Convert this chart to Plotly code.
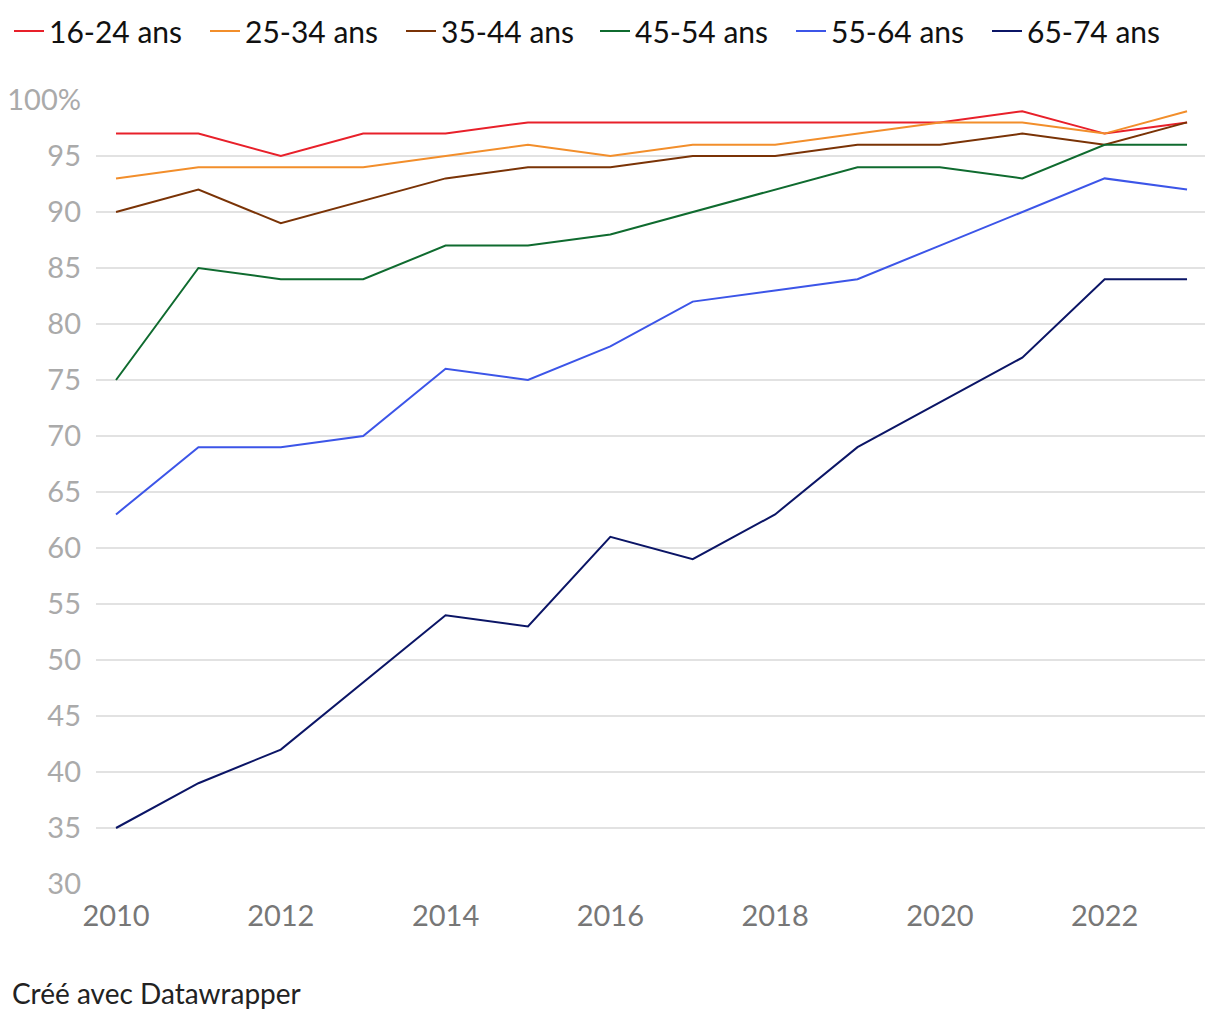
import plotly.graph_objects as go

years = list(range(2010, 2024))
series_names = ["16-24 ans", "25-34 ans", "35-44 ans", "45-54 ans", "55-64 ans", "65-74 ans"]
v_16_24 = [97, 97, 95, 97, 97, 98, 98, 98, 98, 98, 98, 99, 97, 98]
v_25_34 = [93, 94, 94, 94, 95, 96, 95, 96, 96, 97, 98, 98, 97, 99]
v_35_44 = [90, 92, 89, 91, 93, 94, 94, 95, 95, 96, 96, 97, 96, 98]
v_45_54 = [75, 85, 84, 84, 87, 87, 88, 90, 92, 94, 94, 93, 96, 96]
v_55_64 = [63, 69, 69, 70, 76, 75, 78, 82, 83, 84, 87, 90, 93, 92]
v_65_74 = [35, 39, 42, 48, 54, 53, 61, 59, 63, 69, 73, 77, 84, 84]
colors = ["#e8202a", "#f28e2b", "#7a3306", "#0f6b2f", "#3c55e8", "#0b1566"]

y_ticks = list(range(30, 101, 5))
y_tick_text = [str(v) if v != 100 else "100%" for v in y_ticks]
x_ticks = list(range(2010, 2023, 2))

FONT = "Lato, Roboto, sans-serif"

fig = go.Figure()
all_vals = [v_16_24, v_25_34, v_35_44, v_45_54, v_55_64, v_65_74]
for i, (name, vals, col) in enumerate(zip(series_names, all_vals, colors)):
    fig.add_trace(go.Scatter(x=years, y=vals, mode="lines", name=name,
                             legend="legend" if i < 3 else "legend2",
                             line=dict(color=col, width=2)))

legend_common = dict(orientation="h", xref="container", xanchor="left",
                     y=1 - 31 / 1020, yref="container", yanchor="middle",
                     font=dict(size=30, color="#111", family=FONT),
                     itemwidth=30, tracegroupgap=0, bgcolor="rgba(0,0,0,0)",
                     entrywidthmode="pixels", entrywidth=151)

fig.update_layout(
    width=1220, height=1020,
    paper_bgcolor="white", plot_bgcolor="white",
    margin=dict(l=96, r=15, t=100, b=136, autoexpand=False),
    font=dict(family=FONT, size=24, color="#222"),
    showlegend=True,
    legend=dict(x=9 / 1220, **legend_common),
    legend2=dict(x=595 / 1220, **legend_common),
    xaxis=dict(range=[2009.757, 2023.218], tickvals=x_ticks,
               ticktext=[str(t) for t in x_ticks], automargin=False,
               showgrid=False, zeroline=False, showline=False,
               tickfont=dict(size=29, color="#777777", family=FONT),
               ticks="", ticklabelstandoff=12),
    yaxis=dict(range=[30, 100], tickvals=y_ticks, ticktext=y_tick_text,
               automargin=False,
               showgrid=True, gridcolor="#e2e2e2", gridwidth=1.5,
               zeroline=False, showline=False, ticks="",
               tickfont=dict(size=29, color="#aaaaaa", family=FONT),
               ticklabelstandoff=14),
    annotations=[dict(text="Créé avec Datawrapper",
                      x=-86 / 1109, y=-(993 - 884) / 784,
                      xref="paper", yref="paper", showarrow=False,
                      xanchor="left", yanchor="middle",
                      font=dict(size=28, color="#222", family=FONT))],
)

fig.write_html("out.html", config={"displayModeBar": False},
               post_script="document.body.style.margin='0';document.body.style.padding='0';")
